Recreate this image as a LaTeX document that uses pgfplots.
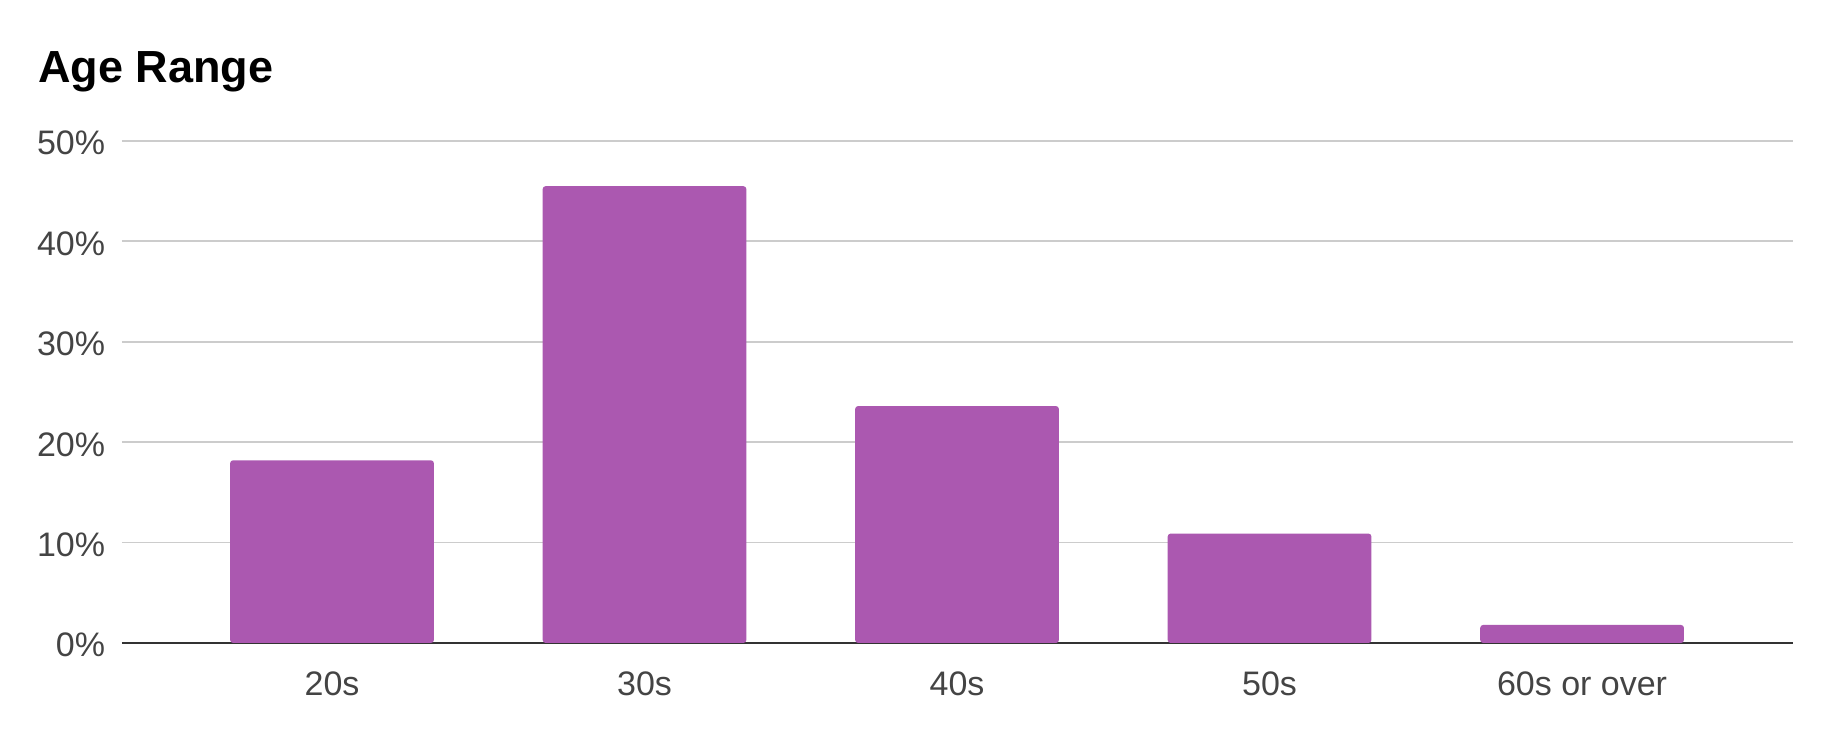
\documentclass[border=0pt]{standalone}
\usepackage{fontspec}
\setmainfont{Liberation Sans}
\usepackage{pgfplots}
\pgfplotsset{compat=1.18}
\definecolor{barpurple}{HTML}{AB58B0}
\definecolor{gridgray}{HTML}{CCCCCC}
\definecolor{labelgray}{HTML}{444444}
\definecolor{axisdark}{HTML}{333333}
\begin{document}
\begin{tikzpicture}
\begin{axis}[
    scale only axis,
    width=835.5pt, height=251pt,
    xmin=-0.672, xmax=4.675,
    ymin=0, ymax=50,
    axis x line*=bottom,
    axis y line*=left,
    x axis line style={draw=axisdark, line width=1.1pt, -},
    y axis line style={draw=none},
    ymajorgrids=true,
    grid style={draw=gridgray, line width=0.9pt},
    xtick=data,
    xticklabels={20s,30s,40s,50s,60s or over},
    ytick={0,10,20,30,40,50},
    yticklabels={0\%,10\%,20\%,30\%,40\%,50\%},
    major tick length=0pt,
    tick style={draw=none},
    xticklabel style={font=\fontsize{17}{20}\selectfont, text=labelgray, anchor=base, inner sep=0pt, yshift=-26.5pt},
    yticklabel style={font=\fontsize{17}{20}\selectfont, text=labelgray, anchor=base east, inner sep=0pt, xshift=-8.25pt, yshift=-7pt},
    ybar, bar width=0.652,
]
\addplot[fill=barpurple, draw=none, rounded corners=1.5pt] coordinates {(0,18.2) (1,45.5) (2,23.6) (3,10.9) (4,1.8)};
\end{axis}
\node[anchor=base west, inner sep=0pt, font=\fontsize{22.5}{26}\selectfont\bfseries] at (-42pt,280pt) {Age Range};
\pgfresetboundingbox
\path[use as bounding box] (-61pt,-49.5pt) rectangle (854pt,321.5pt);
\end{tikzpicture}
\end{document}
